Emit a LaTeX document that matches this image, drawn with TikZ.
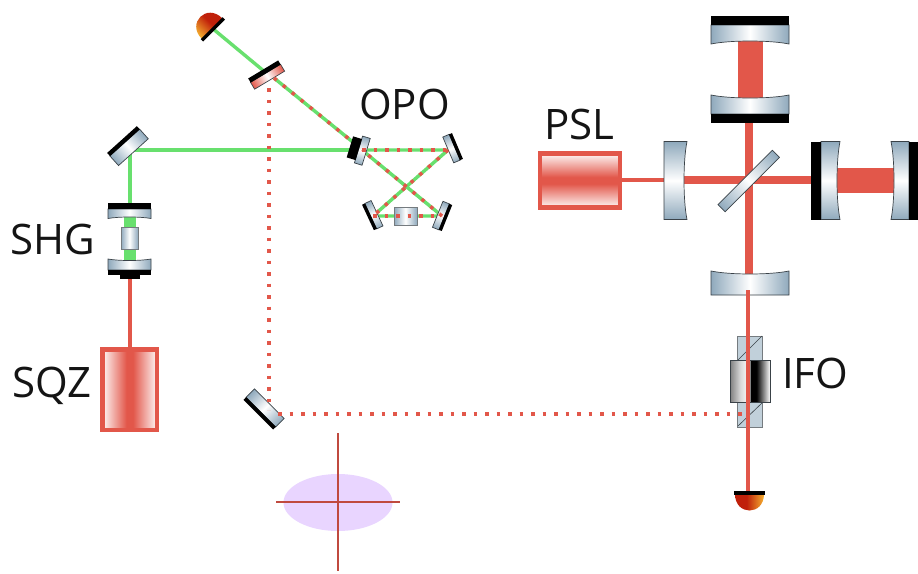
\documentclass[tikz,border=0pt]{standalone}
\usepackage{fontspec}
\setmainfont{Open Sans}
\definecolor{rb}{HTML}{E2574A}
\definecolor{gb}{HTML}{68E06E}
\definecolor{gl}{HTML}{8FA9BC}
\definecolor{edgec}{HTML}{3A4248}
\definecolor{lilac}{HTML}{E9D5FF}
\definecolor{detr}{HTML}{C0200A}
\definecolor{deto}{HTML}{F5B030}
\pgfdeclarehorizontalshading{glassS}{100bp}{color(0bp)=(gl);color(25bp)=(gl);color(50bp)=(white);color(75bp)=(gl);color(100bp)=(gl)}
\pgfdeclarehorizontalshading{redS}{100bp}{color(0bp)=(rb);color(25bp)=(rb);color(50bp)=(white);color(75bp)=(rb);color(100bp)=(rb)}
\pgfdeclarehorizontalshading{sqzS}{100bp}{color(0bp)=(white);color(25bp)=(white!95!rb);color(47bp)=(rb);color(53bp)=(rb);color(75bp)=(white!95!rb);color(100bp)=(white)}
\pgfdeclareverticalshading{pslS}{100bp}{color(0bp)=(white);color(25bp)=(white!95!rb);color(47bp)=(rb);color(53bp)=(rb);color(75bp)=(white!95!rb);color(100bp)=(white)}
\pgfdeclarehorizontalshading{isoS}{100bp}{color(0bp)=(gray);color(25bp)=(gray);color(38bp)=(white!85!black);color(49.5bp)=(white);color(50.5bp)=(black);color(58bp)=(black);color(75bp)=(white);color(100bp)=(white)}
\pgfdeclarehorizontalshading{detS}{100bp}{color(0bp)=(detr);color(25bp)=(detr);color(45bp)=(detr);color(75bp)=(deto);color(100bp)=(deto)}
\pgfkeys{/optic/.cd,L/.store in=\opL,T/.store in=\opT,B/.store in=\opB,BL/.store in=\opBL,C/.store in=\opC,S/.store in=\opS,
 L=20,T=10,B=0,BL=0,C=0,S=glassS}
% optic: local x along the face, black backing above y=0, glass below
\newcommand\optic[3]{\begin{scope}[transform canvas={shift={(#1)},rotate=#2}]
 \pgfkeys{/optic/.cd,#3}
 \path[shade,shading=\opS,draw=edgec,line width=.7pt] (-\opL,0) -- (\opL,0) -- (\opL,\opT) .. controls (\opL/2,{\opT-\opC}) and (-\opL/2,{\opT-\opC}) .. (-\opL,\opT) -- cycle;
 \ifdim\opB pt>0pt \fill[black] (-\opBL,-\opB) rectangle (\opBL,0.3); \fi
\end{scope}}
\newcommand\detector[3]{\begin{scope}[transform canvas={shift={(#1)},rotate=#2}]
 \path[shade,shading=detS] (-14.5,0) .. controls (-14.5,#3) and (14.5,#3) .. (14.5,0) -- cycle;
 \fill[black] (-15.5,-3) rectangle (15.5,0.5);
\end{scope}}
\tikzset{
 redthin/.style={draw=rb,line width=3.2pt},
 redmid/.style={draw=rb,line width=8pt},
 redfat/.style={draw=rb,line width=25pt},
 greenb/.style={draw=gb,line width=3.4pt},
 greenfat/.style={draw=gb,line width=12pt},
 dots/.style={draw=rb,line width=3.5pt,dash pattern=on 3.5pt off 8pt},
 lab/.style={font=\fontsize{42}{42}\selectfont,text=black!92,inner sep=0pt},
 laser/.style={draw=rb,line width=4.5pt},
}
\begin{document}
\begin{tikzpicture}[x=1pt,y=-1pt]
\useasboundingbox[fill=white] (0,0) rectangle (918,573);
% anchor points
\coordinate (c1) at (750,30); \coordinate (c2) at (750,105);
\coordinate (bsT) at (749,118); \coordinate (bsB) at (749,280);
\coordinate (bsL) at (680,180); \coordinate (bsR) at (815,180);
\coordinate (armL) at (830,180); \coordinate (armR) at (900,180);
\coordinate (pslE) at (620,180); \coordinate (prm) at (668,180);
\coordinate (ifoT) at (748,290); \coordinate (ifoD) at (748,494);
\coordinate (ifoP) at (745,414); \coordinate (fold) at (269,410);
\coordinate (foldE) at (278,414); \coordinate (pick) at (269,88);
\coordinate (det) at (212,28); \coordinate (pk) at (265,72);
\coordinate (pk2) at (274,78); \coordinate (inp) at (354,143);
\coordinate (inp2) at (362,150); \coordinate (ur) at (448,150);
\coordinate (ll) at (373,216); \coordinate (lr) at (442,216);
\coordinate (st) at (130,150); \coordinate (shgT) at (130,205);
\coordinate (shg1) at (130,216); \coordinate (shg2) at (130,262);
\coordinate (shgB) at (130,279); \coordinate (sqzT) at (130,349);
\coordinate (inpG) at (352,150);
\coordinate (cx1) at (338,433); \coordinate (cx2) at (338,571);
\coordinate (cy1) at (276,502); \coordinate (cy2) at (400,502);
% interferometer beams
\draw[redfat] (c1) -- (c2);
\draw[redmid] (bsT) -- (bsB);
\draw[redmid] (bsL) -- (bsR);
\draw[redfat] (armL) -- (armR);
\draw[redthin] (pslE) -- (prm);
% green beams
\draw[greenb] (det) -- (pk);
\draw[greenb] (pk2) -- (inp);
\draw[greenb] (shgT) -- (st) -- (inpG);
\draw[greenb] (inp2) -- (ur) -- (ll) -- (lr) -- (inp2);
\draw[greenfat] (shg1) -- (shg2);
\draw[redthin] (shgB) -- (sqzT);
% interferometer optics
\optic{750,25}{0}{L=39,T=19,B=9,BL=39,C=4,S=glassS}
\optic{750,114}{180}{L=39,T=19,B=9,BL=39,C=4,S=glassS}
\optic{750,295}{180}{L=39,T=24,B=0,BL=0,C=4,S=glassS}
\optic{664,180.5}{90}{L=39,T=23,B=0,BL=0,C=4,S=glassS}
\optic{821,180.5}{90}{L=39,T=19,B=10,BL=39,C=4,S=glassS}
\optic{909,180.5}{-90}{L=39,T=18,B=9,BL=39,C=4,S=glassS}
\optic{745.2,177.5}{45}{L=38.5,T=10,B=0,BL=0,C=0,S=glassS}
% squeezer optics
\optic{124.7,142.5}{42}{L=20,T=13,B=4,BL=20,C=0,S=glassS}
\optic{129.5,209}{0}{L=21.5,T=9.5,B=6,BL=21.5,C=2,S=glassS}
\optic{129.5,270}{180}{L=21.5,T=11,B=5,BL=21.5,C=2,S=glassS}
\fill[black] (120,274) rectangle (140,279);
\path[shade,shading=glassS,draw=edgec!70,line width=.5pt] (121,227) rectangle (138,249);
\optic{265.5,73.3}{31}{L=17.5,T=8,B=4.5,BL=17.5,C=0,S=redS}
\optic{260.8,412.2}{135}{L=21,T=12,B=3.5,BL=21,C=0,S=glassS}
\optic{358.5,149.5}{73}{L=14,T=8,B=9,BL=11,C=0,S=glassS}
\optic{454.7,147.2}{-67}{L=14,T=7,B=3,BL=14,C=0,S=glassS}
\optic{370.7,216.2}{115}{L=14,T=7,B=3,BL=14,C=0,S=glassS}
\optic{444.2,216.9}{-112}{L=14,T=7,B=3,BL=14,C=0,S=glassS}
\path[shade,shading=glassS,draw=edgec!70,line width=.5pt] (394,207) rectangle (417,225);
% dotted beams
\draw[dots] (pk2) -- (inp);
\draw[dots] (inp2) -- (ur);
\draw[dots] (ur) -- (ll);
\draw[dots] (ll) -- (lr);
\draw[dots] (lr) -- (inp2);
\draw[dots] (pick) -- (fold);
% lasers
\path[shade,shading=pslS,laser] (540,153.5) rectangle (620,207.5);
\path[shade,shading=sqzS,laser] (102.5,349.5) rectangle (157,430);
% isolator
\path[fill=gl!55,draw=edgec!70,line width=.5pt] (737,336) rectangle (762,427);
\draw[edgec,line width=.6pt] (738,360) -- (762,336) (738,426) -- (762,403);
\path[shade,shading=isoS,draw=edgec,line width=.8pt] (730,360) rectangle (770,402);
\draw[dots] (foldE) -- (ifoP);
\draw[redthin] (ifoT) -- (ifoD);
% detectors
\detector{749.5,494}{0}{22}
\detector{212,28.5}{225}{22}
% ellipse with crosshair
\fill[lilac] (338,502.5) ellipse[x radius=54.5,y radius=28.5];
\draw[rb!85!black,line width=1.4pt] (cx1) -- (cx2);
\draw[rb!85!black,line width=1.4pt] (cy1) -- (cy2);
% labels
\node[lab,anchor=base west] (tOPO) at (359,119) {OPO};
\node[lab,anchor=base west] (tPSL) at (544,139) {PSL};
\node[lab,anchor=base west] (tSHG) at (10,254) {SHG};
\node[lab,anchor=base west] (tSQZ) at (12,397) {SQZ};
\node[lab,anchor=base west] (tIFO) at (782,388) {IFO};
\end{tikzpicture}
\end{document}
